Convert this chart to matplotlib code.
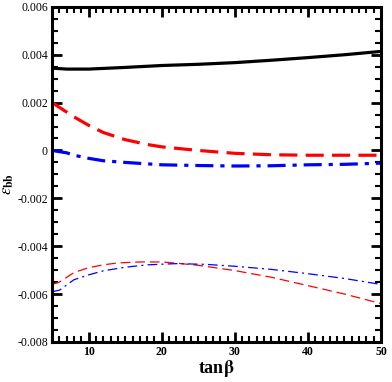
import numpy as np
import matplotlib
matplotlib.use("Agg")
import matplotlib.pyplot as plt
from matplotlib.ticker import MultipleLocator

plt.rcParams['font.family'] = ['Liberation Serif', 'DejaVu Serif']
plt.rcParams['mathtext.fontset'] = 'stix'
plt.rcParams['lines.scale_dashes'] = False

# thick curves
x_black = [5, 7, 10, 15, 20, 25, 30, 35, 40, 45, 50]
y_black = [0.00344, 0.0034, 0.0034, 0.00347, 0.00355, 0.0036, 0.00367, 0.00377, 0.00388, 0.004, 0.00414]

x_red = [5, 6, 8, 10, 12, 15, 18, 20, 25, 30, 35, 40, 45, 50]
y_red = [0.002, 0.0018, 0.0014, 0.00105, 0.00075, 0.00045, 0.00025, 0.00015, 0.0, -0.00012, -0.00018, -0.0002, -0.0002, -0.0002]

x_blue = [5, 7, 8, 10, 12, 15, 20, 25, 30, 35, 40, 45, 50]
y_blue = [0.0, -0.0001, -0.0002, -0.00033, -0.00043, -0.0005, -0.0006, -0.00063, -0.00065, -0.00064, -0.0006, -0.00058, -0.00053]

# thin curves
x_red_thin = [5, 6, 8, 10, 12, 14, 17, 20, 22, 25, 28, 30, 35, 40, 45, 50]
y_red_thin = [-0.0056, -0.0055, -0.0051, -0.0049, -0.00478, -0.0047, -0.00466, -0.00466, -0.00471,
              -0.0048, -0.00493, -0.00502, -0.0053, -0.00565, -0.006, -0.0064]

x_blue_thin = [5, 6, 8, 10, 12, 15, 18, 22, 26, 30, 35, 40, 45, 50]
y_blue_thin = [-0.0059, -0.00584, -0.0054, -0.0052, -0.00503, -0.00488, -0.00478, -0.00473, -0.00476,
               -0.00484, -0.00497, -0.00515, -0.00535, -0.0056]

fig = plt.figure(figsize=(3.92, 3.82), dpi=100)
ax = fig.add_axes([0.133, 0.105, 0.839, 0.877])

ax.plot(x_black, y_black, color="black", lw=2.3, solid_capstyle="butt")
ax.plot(x_red, y_red, color="red", lw=2.3, dashes=(13, 6))
ax.plot(x_blue, y_blue, color="blue", lw=2.3, dashes=(13, 5, 3, 5))
ax.plot(x_red_thin, y_red_thin, color="red", lw=0.9, dashes=(7, 3.5))
ax.plot(x_blue_thin, y_blue_thin, color="blue", lw=0.9, dashes=(7, 3, 1.5, 3))

ax.set_xlim(5, 50)
ax.set_ylim(-0.008, 0.006)
ax.xaxis.set_minor_locator(MultipleLocator(1))
ax.yaxis.set_minor_locator(MultipleLocator(0.0005))
ax.set_yticks([-0.008, -0.006, -0.004, -0.002, 0, 0.002, 0.004, 0.006])
ax.set_yticklabels(["-0.008", "-0.006", "-0.004", "-0.002", "0", "0.002", "0.004", "0.006"])
ax.set_xticks([10, 20, 30, 40, 50])
ax.set_xticklabels(["10", "20", "30", "40", "50"], fontweight="bold")

ax.tick_params(which="both", direction="in", top=True, right=True)
ax.tick_params(which="major", length=7, width=2, labelsize=8.5, pad=3)
ax.tick_params(which="minor", length=4, width=1.5)
for s in ax.spines.values():
    s.set_linewidth(2.2)

ax.set_xlabel(r"tan$\mathbf{\beta}$", fontsize=13, fontweight="bold", labelpad=0)
ax.set_ylabel(r"$\varepsilon_{\mathbf{bb}}$", fontsize=12)
ax.yaxis.set_label_coords(-0.11, 0.47)

fig.savefig("out.png", dpi=100)
